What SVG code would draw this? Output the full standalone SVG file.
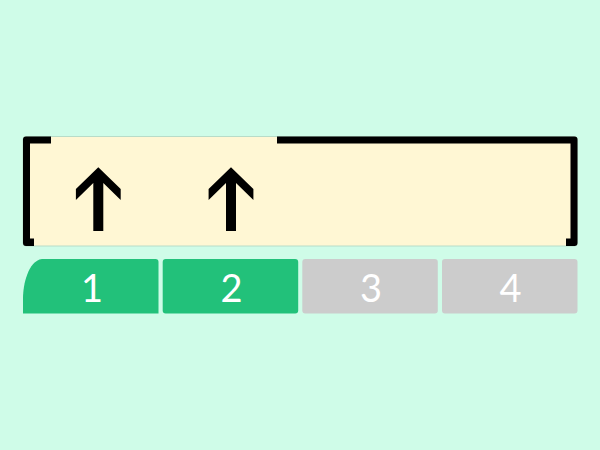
<svg xmlns="http://www.w3.org/2000/svg" width="600" height="450" viewBox="0 0 600 450">
  <style>
    .num { font-family: Lato, "Open Sans", "Liberation Sans", sans-serif; font-size: 38px; fill: #ffffff; text-anchor: middle; }
    .on { fill: #22c17a; }
    .off { fill: #cccccc; }
    .arrow { fill: #000000; }
    .frame { fill: #000000; }
  </style>
  <defs>
    <polygon id="up" points="0,0 22.4,21.7 22.4,32.7 5,15.7 5,63.7 -5,63.7 -5,15.7 -22.4,32.7 -22.4,21.7"/>
  </defs>
  <rect x="0" y="0" width="600" height="450" fill="#cffce8"/>
  <g id="container">
    <rect x="23" y="136.5" width="554.5" height="109.5" rx="3" fill="#fff7d4" stroke="#b8dcc8" stroke-width="1"/>
    <path class="frame" d="M51,136.5 H26 A3,3 0 0 0 23,139.5 V243 A3,3 0 0 0 26,246 H34 V238.5 H30 V143.5 H51 Z"/>
    <path class="frame" d="M277,136.5 H574.5 A3,3 0 0 1 577.5,139.5 V243 A3,3 0 0 1 574.5,246 H566 V238.5 H570.5 V143.5 H277 Z"/>
  </g>
  <g id="connectors">
    <use href="#up" class="arrow" x="98.3" y="167.3"/>
    <use href="#up" class="arrow" x="231" y="167.3"/>
  </g>
  <g id="tab1">
    <path class="on" d="M42,259 H155.5 A3,3 0 0 1 158.5,262 V313.5 H23 V298 C23,285 28,261 42,259 Z"/>
    <text class="num" x="92" y="301.5">1</text>
  </g>
  <g id="tab2">
    <rect class="on" x="162.7" y="259" width="135.5" height="54.5" rx="3"/>
    <text class="num" x="231.5" y="301.5">2</text>
  </g>
  <g id="tab3">
    <rect class="off" x="302.3" y="259" width="135.5" height="54.5" rx="3"/>
    <text class="num" x="371" y="301.5">3</text>
  </g>
  <g id="tab4">
    <rect class="off" x="442" y="259" width="135.5" height="54.5" rx="3"/>
    <text class="num" x="510.5" y="301.5">4</text>
  </g>
</svg>
